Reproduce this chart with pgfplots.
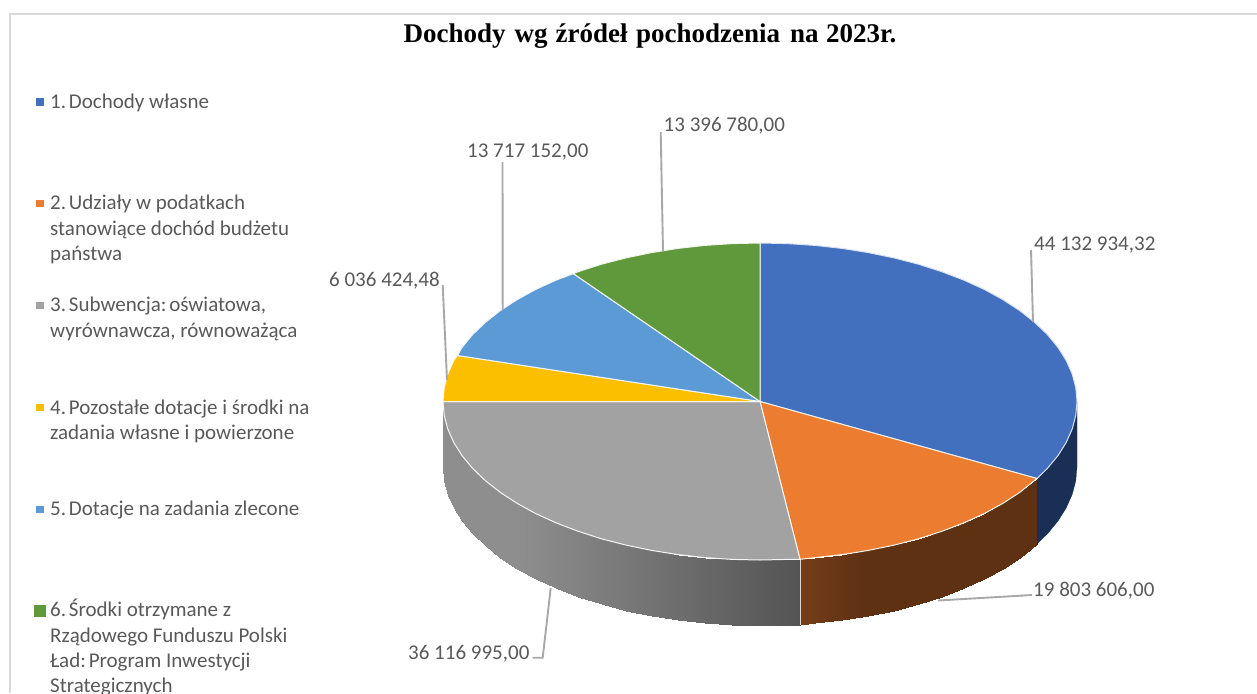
\documentclass[border=0pt]{standalone}
\usepackage{pgfplots}
\pgfplotsset{compat=1.18}
\usepackage{fontspec}
\setmainfont{Carlito}
\newfontfamily\titlefont{Liberation Serif}
\definecolor{cBlue}{RGB}{66,112,191}
\definecolor{cOrange}{RGB}{235,124,48}
\definecolor{cGray}{RGB}{162,162,162}
\definecolor{cYellow}{RGB}{252,191,0}
\definecolor{cLight}{RGB}{91,154,213}
\definecolor{cGreen}{RGB}{96,153,60}
\definecolor{cBlueSide}{RGB}{26,47,85}
\definecolor{cText}{RGB}{89,89,89}
\definecolor{cLead}{RGB}{168,168,168}
\definecolor{cFrame}{RGB}{217,217,217}
\newcommand{\lab}[3]{\node[anchor=base west,inner sep=0pt,text=cText,font=\fontsize{21}{25}\selectfont] at (axis cs:#1,#2) {#3};}
\newcommand{\leg}[3]{\node[anchor=base west,inner sep=0pt,text=cText,font=\fontsize{21}{25}\selectfont] at (axis cs:#1,#2) {#3};}
\newcommand{\ttl}[2]{\node[anchor=base west,inner sep=0pt,font=\titlefont\bfseries\fontsize{27}{32}\selectfont] at (axis cs:#1,42) {#2};}
\newcommand{\nk}{\kern-3.5pt{}}
\begin{document}
\begin{tikzpicture}
\useasboundingbox (0,0) rectangle (1257pt,693pt);
\begin{axis}[
  at={(0,0)},anchor=south west,
  width=1257pt,height=693pt,scale only axis,
  xmin=0,xmax=1257,ymin=0,ymax=693,y dir=reverse,
  hide axis,clip=true,
  point meta rel=per plot,
  ]
% frame
\addplot[draw=cFrame,line width=1.8pt] coordinates {(1257,14)(10,14)(10,693)};
% side of the pie
\addplot[surf,shader=interp,mesh/rows=2,point meta=explicit,
  colormap={sideg}{rgb255(0cm)=(84,84,84); rgb255(1cm)=(142,142,142)}]
 table[x=x,y=y,meta=m] {
x y m
443 401.5 142
444.2 415.3 142
447.8 429.0 142
453.8 442.5 142
462.1 455.7 142
472.7 468.5 142
485.5 480.75 142
500.3 492.4 142
517.2 503.4 142
535.8 513.6 138.7
556.2 522.9 134.5
578.2 531.3 130
601.5 538.8 125.1
626.0 545.1 120.1
651.6 550.4 114.8
678.0 554.6 109.3
705.0 557.6 103.7
732.4 559.4 98
760 560 92.3
787.6 559.4 86.6
800 559.3 84
443 467 142
444.2 480.8 142
447.8 494.5 142
453.8 508 142
462.1 521.2 142
472.7 534 142
485.5 546.25 142
500.3 557.9 142
517.2 568.9 142
535.8 579.1 138.7
556.2 588.4 134.5
578.2 596.8 130
601.5 604.3 125.1
626.0 610.6 120.1
651.6 615.9 114.8
678.0 620.1 109.3
705.0 623.1 103.7
732.4 624.9 98
760 625.5 92.3
787.6 624.9 86.6
800 624.8 84
};
\addplot[surf,shader=interp,mesh/rows=2,point meta=explicit,
  colormap={sideo}{rgb255(0cm)=(94,49,19); rgb255(1cm)=(118,62,24)}]
 table[x=x,y=y,meta=m] {
x y m
800 559.3 1
815 557.6 0.75
842 554.6 0.3
868.4 550.4 0
894 545.1 0
918.5 538.8 0
941.8 531.3 0
963.8 522.9 0
984.2 513.6 0
1002.8 503.4 0
1019.7 492.4 0
1037 478.5 0
800 624.8 1
815 623.1 0.75
842 620.1 0.3
868.4 615.9 0
894 610.6 0
918.5 604.3 0
941.8 596.8 0
963.8 588.4 0
984.2 579.1 0
1002.8 568.9 0
1019.7 557.9 0
1037 544 0
};
\addplot[fill=cBlueSide,draw=cBlueSide,line width=0.2pt] coordinates {
(1037,478.5)(1047.3,468.5)(1057.9,455.7)(1066.2,442.5)(1072.2,429)(1075.8,415.3)(1077,401.5)
(1077,467)(1075.8,480.8)(1072.2,494.5)(1066.2,508)(1057.9,521.2)(1047.3,534)(1037,544)} --cycle;
\addplot[draw=white!85!black,line width=1pt] coordinates {(800,559.3)(800,624.8)};
% top of the pie
\addplot[fill=cBlue,draw=white!80!cBlue,line width=1pt] coordinates {
(760,401.5)(760,243)(787.6,243.6)(815,245.4)(842,248.4)(868.4,252.6)(894,257.9)(918.5,264.2)(941.8,271.7)(963.8,280.1)(984.2,289.4)(1002.8,299.6)(1019.7,310.6)(1034.5,322.25)(1047.3,334.5)(1057.9,347.3)(1066.2,360.5)(1072.2,374)(1075.8,387.7)(1077,401.5)(1075.8,415.3)(1072.2,429)(1066.2,442.5)(1057.9,455.7)(1047.3,468.5)(1037,478.5)} --cycle;
\addplot[fill=cOrange,draw=white!90!cOrange,line width=1pt] coordinates {
(760,401.5)(1037,478.5)(1019.7,492.4)(1002.8,503.4)(984.2,513.6)(963.8,522.9)(941.8,531.3)(918.5,538.8)(894,545.1)(868.4,550.4)(842,554.6)(815,557.6)(800,559.3)} --cycle;
\addplot[fill=cGray,draw=white!90!cGray,line width=1pt] coordinates {
(760,401.5)(800,559.3)(787.6,559.4)(760,560)(732.4,559.4)(705,557.6)(678,554.6)(651.6,550.4)(626,545.1)(601.5,538.8)(578.2,531.3)(556.2,522.9)(535.8,513.6)(517.2,503.4)(500.3,492.4)(485.5,480.75)(472.7,468.5)(462.1,455.7)(453.8,442.5)(447.8,429)(444.2,415.3)(443,401.5)} --cycle;
\addplot[fill=cYellow,draw=white!90!cYellow,line width=1pt] coordinates {
(760,401.5)(443,401.5)(444.2,387.7)(447.8,374)(453.8,360.5)(457.5,355.5)} --cycle;
\addplot[fill=cLight,draw=white!90!cLight,line width=1pt] coordinates {
(760,401.5)(457.5,355.5)(462.1,347.3)(472.7,334.5)(485.5,322.25)(500.3,310.6)(517.2,299.6)(535.8,289.4)(556.2,280.1)(573.3,273.6)} --cycle;
\addplot[fill=cGreen,draw=white!90!cGreen,line width=1pt] coordinates {
(760,401.5)(573.3,273.6)(578.2,271.7)(601.5,264.2)(626,257.9)(651.6,252.6)(678,248.4)(705,245.4)(732.4,243.6)(760,243)} --cycle;
% leader lines
\addplot[draw=cLead,line width=1.9pt] coordinates {(1031,250)(1033,322)};
\addplot[draw=cLead,line width=1.9pt] coordinates {(660.7,132)(663,251)};
\addplot[draw=cLead,line width=1.9pt] coordinates {(502.5,162)(502.7,310)};
\addplot[draw=cLead,line width=1.9pt] coordinates {(442.7,285)(447,380)};
\addplot[draw=cLead,line width=1.9pt] coordinates {(550.7,588)(542.7,657.7)(532.7,657.7)};
\addplot[draw=cLead,line width=1.9pt] coordinates {(938,600.5)(1032,595)};
% legend keys
\addplot[fill=cBlue,draw=none] coordinates {(36,98)(43.5,98)(43.5,106)(36,106)} --cycle;
\addplot[fill=cOrange,draw=none] coordinates {(36,200)(43.5,200)(43.5,207)(36,207)} --cycle;
\addplot[fill=cGray,draw=none] coordinates {(36,302)(43.5,302)(43.5,309)(36,309)} --cycle;
\addplot[fill=cYellow,draw=none] coordinates {(36,404)(43.5,404)(43.5,411)(36,411)} --cycle;
\addplot[fill=cLight,draw=none] coordinates {(36,506)(43.5,506)(43.5,513)(36,513)} --cycle;
\addplot[fill=cGreen,draw=none] coordinates {(34,605)(46,605)(46,617)(34,617)} --cycle;
% title
\ttl{403.5}{Dochody}
\ttl{514.5}{wg}
\ttl{555.5}{źródeł}
\ttl{636}{pochodzenia}
\ttl{790}{na}
\ttl{826}{2023r.}
% data labels
\lab{1034}{250}{44 132 934,32}
\lab{663.5}{131.5}{13 396 780,00}
\lab{467}{157.5}{13 717 152,00}
\lab{329}{286}{6 036 424,48}
\lab{408}{659}{36 116 995,00}
\lab{1033}{596}{19 803 606,00}
% legend texts
\leg{50}{108}{1. \nk Dochody własne}
\leg{50}{209.7}{2. \nk Udziały w podatkach}
\leg{50}{235}{stanowiące dochód budżetu}
\leg{50}{260.5}{państwa}
\leg{50}{311.7}{3. \nk Subwencja: \nk oświatowa,}
\leg{50}{337}{wyrównawcza, równoważąca}
\leg{50}{414}{4. \nk Pozostałe dotacje i środki na}
\leg{50}{439}{zadania własne i powierzone}
\leg{50}{515.7}{5. \nk Dotacje na zadania zlecone}
\leg{50}{616.7}{6. \nk Środki otrzymane z}
\leg{50}{642}{Rządowego Funduszu Polski}
\leg{50}{667.5}{Ład: \nk Program Inwestycji}
\leg{50}{692.5}{Strategicznych}
\end{axis}
\end{tikzpicture}
\end{document}
